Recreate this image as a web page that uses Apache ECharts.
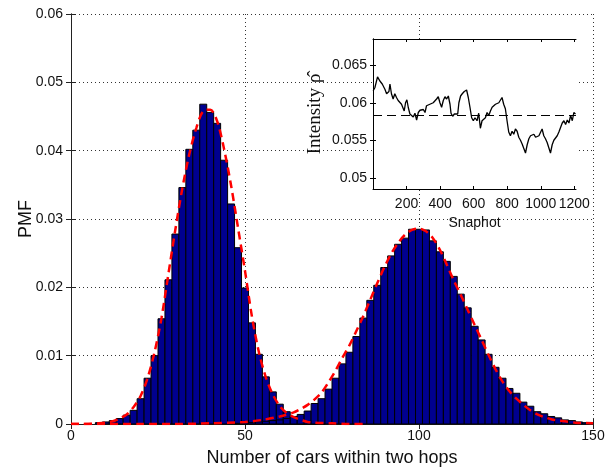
<!DOCTYPE html>
<html><head><meta charset="utf-8">
<script src="https://cdn.jsdelivr.net/npm/echarts@6/dist/echarts.min.js"></script>
<style>html,body{margin:0;padding:0;background:#fff}#c{width:606px;height:467px}</style>
</head><body><div id="c"></div>
<script>
// ---- main histogram data (bins of width 2) ----
const binWidth = 2;
const leftBinX = [8,10,12,14,16,18,20,22,24,26,28,30,32,34,36,38,40,42,44,46,48,50,52,54,56,58,60,62,64,66,68,70,72];
const leftBinPmf = [0.0002,0.0003,0.0005,0.0008,0.0013,0.0020,0.0037,0.0067,0.0100,0.0154,0.0211,0.0278,0.0346,0.0402,0.0430,0.0468,0.0456,0.0440,0.0386,0.0322,0.0258,0.0199,0.0148,0.0102,0.0069,0.0047,0.0029,0.0018,0.0011,0.0007,0.0004,0.0002,0.0001];
const rightBinX = [48,50,52,54,56,58,60,62,64,66,68,70,72,74,76,78,80,82,84,86,88,90,92,94,96,98,100,102,104,106,108,110,112,114,116,118,120,122,124,126,128,130,132,134,136,138,140,142,144,146,148];
const rightBinPmf = [0.0001,0.0002,0.0002,0.0003,0.0004,0.0005,0.0006,0.0008,0.0011,0.0014,0.0019,0.0030,0.0037,0.0051,0.0067,0.0088,0.0105,0.0128,0.0155,0.0181,0.0203,0.0229,0.0246,0.0263,0.0272,0.0285,0.0285,0.0284,0.0268,0.0252,0.0238,0.0216,0.0190,0.0170,0.0143,0.0123,0.0102,0.0083,0.0067,0.0052,0.0045,0.0032,0.0026,0.0018,0.0015,0.0011,0.0009,0.0006,0.0005,0.0003,0.0002];
// ---- fitted curves (red dashed) ----
const leftFitX = [0,4,8,10,12,14,16,18,20,22,24,26,28,30,32,34,36,38,40,42,44,46,48,50,52,54,56,58,60,62,64,66,68,70,75,80,85];
const leftFitPmf = [0,0,0.0001,0.0002,0.0004,0.0008,0.0014,0.0025,0.0041,0.0067,0.0105,0.0155,0.0220,0.0285,0.0345,0.0395,0.0433,0.0458,0.0460,0.0443,0.0402,0.0349,0.0287,0.0224,0.0157,0.0105,0.0068,0.0043,0.0026,0.0016,0.0010,0.0006,0.0003,0.0002,0.0001,0,0];
const rightFitX = [0,20,30,40,50,55,60,64,66,68,70,72,74,76,78,80,82,84,86,88,90,92,94,96,98,100,102,104,106,108,110,112,114,116,118,120,122,124,126,128,130,132,134,136,138,140,142,145,150];
const rightFitPmf = [0,0,0,0.0001,0.0003,0.0006,0.0011,0.0017,0.0022,0.0028,0.0036,0.0046,0.0061,0.0078,0.0097,0.0115,0.0136,0.0158,0.0182,0.0206,0.0229,0.0249,0.0265,0.0277,0.0284,0.0286,0.0282,0.0272,0.0255,0.0233,0.0210,0.0189,0.0167,0.0145,0.0123,0.0101,0.0080,0.0062,0.0048,0.0037,0.0028,0.0020,0.0014,0.0010,0.0007,0.0005,0.0004,0.0002,0.0001];
const xTickLabels = [0,50,100,150];
const yTickLabels = [0,0.01,0.02,0.03,0.04,0.05,0.06];
// ---- inset data ----
const snapshots = [1,11,27,41,55,71,81,95,101,110,120,130,140,150,160,170,180,186,194,202,210,220,229,240,250,260,270,280,290,300,310,319,329,339,349,359,369,379,389,399,409,419,429,439,449,459,465,475,485,495,505,512,522,532,544,558,568,578,588,598,608,620,630,640,650,660,670,680,690,700,710,720,730,740,750,760,769,779,789,799,809,819,829,839,849,859,869,879,889,899,909,919,929,939,949,959,969,979,989,999,1008,1018,1028,1038,1048,1058,1068,1078,1088,1098,1108,1118,1128,1138,1148,1158,1168,1178,1188,1197,1207];
const intensity = [0.0616,0.0620,0.06345,0.0629,0.0625,0.0618,0.0612,0.0615,0.0625,0.0612,0.0605,0.0612,0.0607,0.0603,0.0605,0.0598,0.0596,0.0589,0.0600,0.0604,0.0594,0.0585,0.0587,0.0581,0.0586,0.0577,0.0587,0.0590,0.0589,0.0591,0.0587,0.0596,0.0595,0.0598,0.0596,0.0600,0.0598,0.0605,0.0608,0.0600,0.0594,0.0603,0.0608,0.0605,0.0609,0.0598,0.0586,0.0582,0.0585,0.0583,0.0585,0.0600,0.0609,0.0612,0.0615,0.0617,0.0607,0.0594,0.0580,0.0576,0.0580,0.0576,0.0586,0.0566,0.0576,0.0574,0.0580,0.0587,0.0583,0.0589,0.0594,0.0592,0.0598,0.0596,0.0600,0.0599,0.0607,0.0598,0.0592,0.0576,0.0561,0.0556,0.0562,0.0558,0.0565,0.0562,0.0554,0.0550,0.0545,0.0539,0.0533,0.0544,0.0552,0.0556,0.0554,0.0558,0.0554,0.0556,0.0556,0.0558,0.0565,0.0556,0.0552,0.0547,0.0545,0.0533,0.0544,0.0550,0.0552,0.0556,0.0561,0.0567,0.0573,0.0576,0.0571,0.0577,0.0573,0.0583,0.0576,0.0587,0.0585];
const meanIntensity = 0.0583;
const insetXTicks = [200,400,600,800,1000,1200];
const insetYTicks = [0.05,0.055,0.06,0.065];

const FONT = 'Liberation Sans, Arial, sans-serif';
const TXT = '#111';
const AX = '#222';
const chart = echarts.init(document.getElementById('c'), null, {renderer:'canvas'});

function barItem(params, api){
  const x = api.value(0), y = api.value(1);
  const p0 = api.coord([x - binWidth/2, y]);
  const p1 = api.coord([x + binWidth/2, 0]);
  return {type:'rect', shape:{x:p0[0], y:p0[1], width:p1[0]-p0[0], height:p1[1]-p0[1]},
    style:{fill:'#00008f', stroke:'#000', lineWidth:1}};
}
const zip = (a,b)=>a.map((v,i)=>[v,b[i]]);
const axLine = {show:true, lineStyle:{color:AX, width:1}};
const dotted = {show:true, lineStyle:{color:'#333', type:[1,3], width:1}};
const fmtNum = v => v === 0 ? '0' : String(+v.toFixed(4));
const fmtInt = v => String(Math.round(v));

chart.setOption({
  animation:false,
  backgroundColor:'#fff',
  grid:[
    {left:71, top:14, width:522, height:410, containLabel:false, outerBoundsMode:'none'},
    {left:373, top:39, width:203, height:150, show:true, backgroundColor:'#fff', borderWidth:0, z:3, outerBoundsMode:'none'}
  ],
  xAxis:[
    {gridIndex:0, type:'value', min:0, max:150, interval:50, position:'bottom',
     axisLine:axLine, axisTick:{show:true, inside:true, length:5, lineStyle:{color:AX}},
     axisLabel:{fontSize:14, color:TXT, fontFamily:FONT, margin:5, customValues:xTickLabels, formatter:fmtInt},
     splitLine:dotted,
     name:'Number of cars within two hops', nameLocation:'middle', nameGap:25, nameMoveOverlap:false,
     nameTextStyle:{fontSize:18, color:TXT, fontFamily:FONT}},
    {gridIndex:0, type:'value', min:0, max:150, interval:50, position:'top',
     axisLine:axLine, axisTick:{show:true, inside:true, length:5, lineStyle:{color:AX}},
     axisLabel:{show:false}, splitLine:{show:false}},
    {gridIndex:1, type:'value', min:0, max:1210, position:'bottom', z:4,
     axisLine:{show:true, lineStyle:{color:'#000'}},
     axisTick:{show:true, inside:true, length:3, customValues:insetXTicks, lineStyle:{color:'#000'}},
     axisLabel:{fontSize:14, color:TXT, fontFamily:FONT, margin:8, customValues:insetXTicks,
       formatter:fmtInt, hideOverlap:false, showMaxLabel:true},
     splitLine:{show:false},
     name:'Snaphot', nameLocation:'middle', nameGap:27, nameMoveOverlap:false,
     nameTextStyle:{fontSize:14, color:TXT, fontFamily:FONT}},
    {gridIndex:1, type:'value', min:0, max:1210, position:'top', z:4,
     axisLine:{show:true, lineStyle:{color:'#000'}},
     axisTick:{show:true, inside:true, length:3, customValues:insetXTicks, lineStyle:{color:'#000'}},
     axisLabel:{show:false}, splitLine:{show:false}}
  ],
  yAxis:[
    {gridIndex:0, type:'value', min:0, max:0.06, interval:0.01, position:'left',
     axisLine:axLine, axisTick:{show:true, inside:true, length:5, lineStyle:{color:AX}},
     axisLabel:{fontSize:14, color:TXT, fontFamily:FONT, margin:8, customValues:yTickLabels, formatter:fmtNum},
     splitLine:dotted,
     name:'PMF', nameLocation:'middle', nameGap:36, nameMoveOverlap:false,
     nameTextStyle:{fontSize:18, color:TXT, fontFamily:FONT}},
    {gridIndex:0, type:'value', min:0, max:0.06, interval:0.01, position:'right',
     axisLine:axLine, axisTick:{show:true, inside:true, length:5, lineStyle:{color:AX}},
     axisLabel:{show:false}, splitLine:{show:false}},
    {gridIndex:1, type:'value', min:0.0485, max:0.0685, position:'left', z:4,
     axisLine:{show:true, lineStyle:{color:'#000'}},
     axisTick:{show:true, inside:true, length:3, customValues:insetYTicks, lineStyle:{color:'#000'}},
     axisLabel:{fontSize:14, color:TXT, fontFamily:FONT, margin:6, customValues:insetYTicks, formatter:fmtNum},
     splitLine:{show:false},
     name:'Intensity \u03C1\u0302', nameLocation:'middle', nameGap:48, nameMoveOverlap:false,
     nameTextStyle:{fontSize:19, color:TXT, fontFamily:'Liberation Serif, Times New Roman, serif'}},
    {gridIndex:1, type:'value', min:0.0485, max:0.0685, position:'right', z:4,
     axisLine:{show:true, lineStyle:{color:'#000'}},
     axisTick:{show:true, inside:true, length:3, customValues:insetYTicks, lineStyle:{color:'#000'}},
     axisLabel:{show:false}, splitLine:{show:false}}
  ],
  series:[
    {type:'custom', xAxisIndex:0, yAxisIndex:0, renderItem:barItem, encode:{x:0,y:1}, data:zip(leftBinX,leftBinPmf), z:2},
    {type:'custom', xAxisIndex:0, yAxisIndex:0, renderItem:barItem, encode:{x:0,y:1}, data:zip(rightBinX,rightBinPmf), z:2},
    {type:'line', xAxisIndex:0, yAxisIndex:0, data:zip(leftFitX,leftFitPmf), smooth:0.3, symbol:'none',
     lineStyle:{color:'#ff0000', width:2.5, type:[8,5]}, z:3},
    {type:'line', xAxisIndex:0, yAxisIndex:0, data:zip(rightFitX,rightFitPmf), smooth:0.3, symbol:'none',
     lineStyle:{color:'#ff0000', width:2.5, type:[8,5]}, z:3},
    {type:'line', xAxisIndex:2, yAxisIndex:2, data:[[0,meanIntensity],[1210,meanIntensity]], symbol:'none',
     lineStyle:{color:'#000', width:1, type:[9,5]}, z:5},
    {type:'line', xAxisIndex:2, yAxisIndex:2, data:zip(snapshots,intensity), symbol:'none',
     lineStyle:{color:'#000', width:1.3}, z:6}
  ]
});
</script></body></html>
